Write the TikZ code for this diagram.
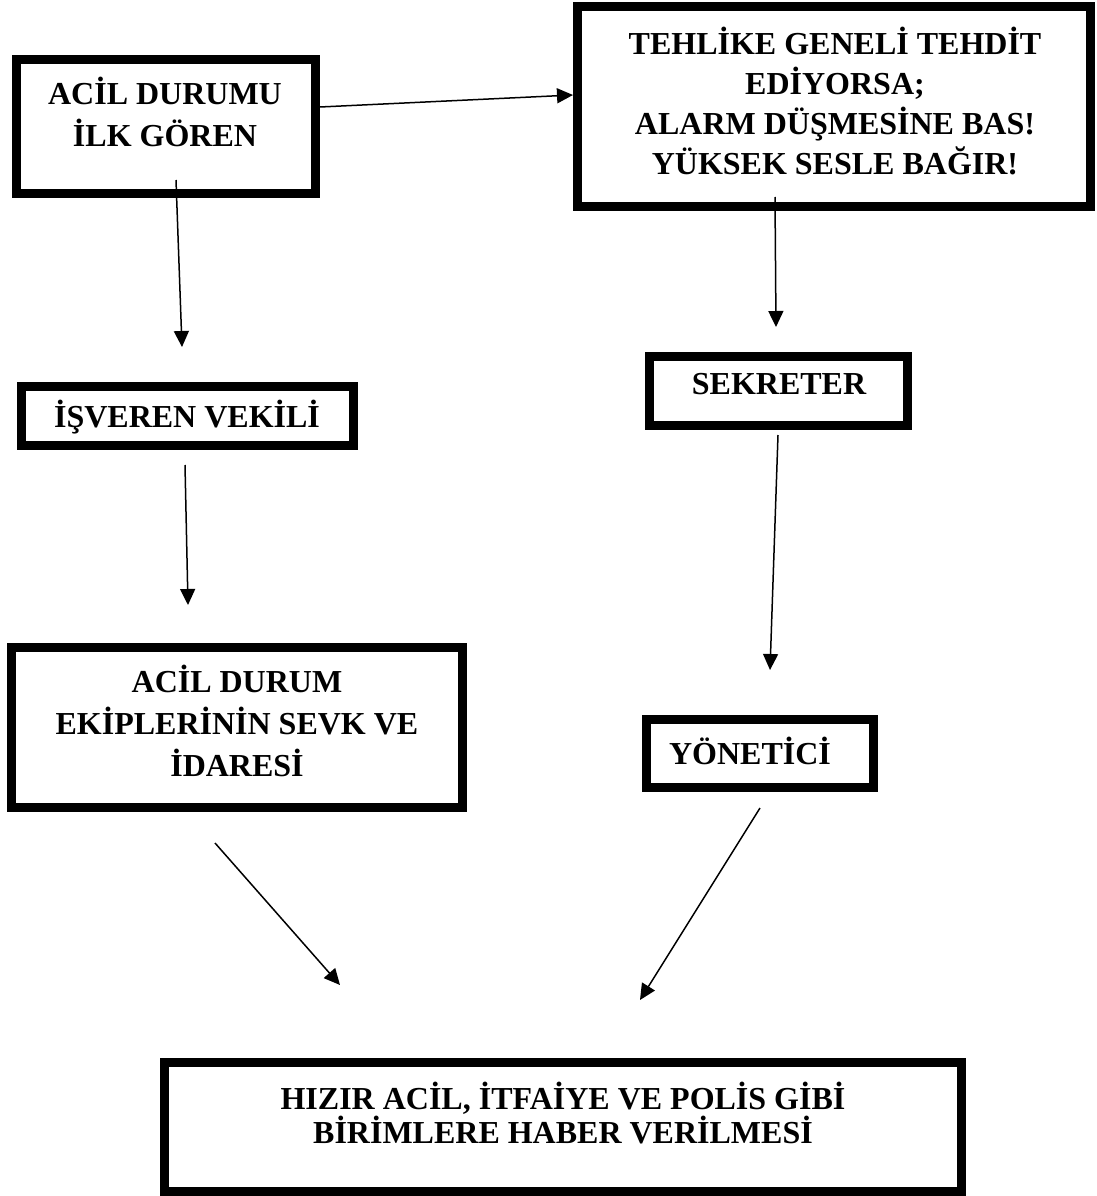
\documentclass[tikz,border=0pt]{standalone}
\usepackage{fontspec}
\setmainfont{Liberation Serif}
\usetikzlibrary{arrows.meta}
\tikzset{
  box/.style={draw=black, line width=9pt, inner sep=0pt, fill=none},
  txt/.style={font=\bfseries\fontsize{32}{42}\selectfont, align=center, inner sep=0pt},
  txttight/.style={font=\bfseries\fontsize{32}{34}\selectfont, align=center, inner sep=0pt},
  arr/.style={draw=black, line width=1.5pt, -{Triangle[length=16pt,width=15pt]}}
}
\begin{document}
\begin{tikzpicture}[x=1pt,y=-1pt]
\useasboundingbox[fill=white] (0,0) rectangle (1096,1196);
% boxes
\node[box, minimum width=299pt, minimum height=134pt] (b1) at (166,126.5) {};
\node[box, minimum width=513pt, minimum height=200pt] (b2) at (834,106.5) {};
\node[box, minimum width=332pt, minimum height=59pt] (b3) at (187.5,416) {};
\node[box, minimum width=258pt, minimum height=69pt] (b4) at (778.5,391) {};
\node[box, minimum width=451pt, minimum height=160pt] (b5) at (237,727.5) {};
\node[box, minimum width=227pt, minimum height=68pt] (b6) at (760,753.5) {};
\node[box, minimum width=797pt, minimum height=129pt] (b7) at (563,1127) {};
% texts
\node[txt] (t1) at (165,112) {ACİL DURUMU\\İLK GÖREN};
\node[txt] (t2) at (835,101) {TEHLİKE GENELİ TEHDİT\\[-2pt]EDİYORSA;\\[-2pt]ALARM DÜŞMESİNE BAS!\\[-2pt]YÜKSEK SESLE BAĞIR!};
\node[txt] (t3) at (187,417) {İŞVEREN VEKİLİ};
\node[txt] (t4) at (779,384) {SEKRETER};
\node[txt] (t5) at (237,721) {ACİL DURUM\\EKİPLERİNİN SEVK VE\\İDARESİ};
\node[txt] (t6) at (750,751) {YÖNETİCİ};
\node[txttight] (t7) at (563,1113) {HIZIR ACİL, İTFAİYE VE POLİS GİBİ\\BİRİMLERE HABER VERİLMESİ};
% arrow end points
\coordinate (a1s) at (320,107);  \coordinate (a1e) at (573,95);
\coordinate (a2s) at (176,180);  \coordinate (a2e) at (182,347);
\coordinate (a3s) at (775,197);  \coordinate (a3e) at (776,327);
\coordinate (a4s) at (185,465);  \coordinate (a4e) at (188,605);
\coordinate (a5s) at (778,435);  \coordinate (a5e) at (770,670);
\coordinate (a6s) at (215,843);  \coordinate (a6e) at (340,985);
\coordinate (a7s) at (760,808);  \coordinate (a7e) at (640,1000);
% arrows
\draw[arr] (a1s) -- (a1e);
\draw[arr] (a2s) -- (a2e);
\draw[arr] (a3s) -- (a3e);
\draw[arr] (a4s) -- (a4e);
\draw[arr] (a5s) -- (a5e);
\draw[arr] (a6s) -- (a6e);
\draw[arr] (a7s) -- (a7e);
\end{tikzpicture}
\end{document}
